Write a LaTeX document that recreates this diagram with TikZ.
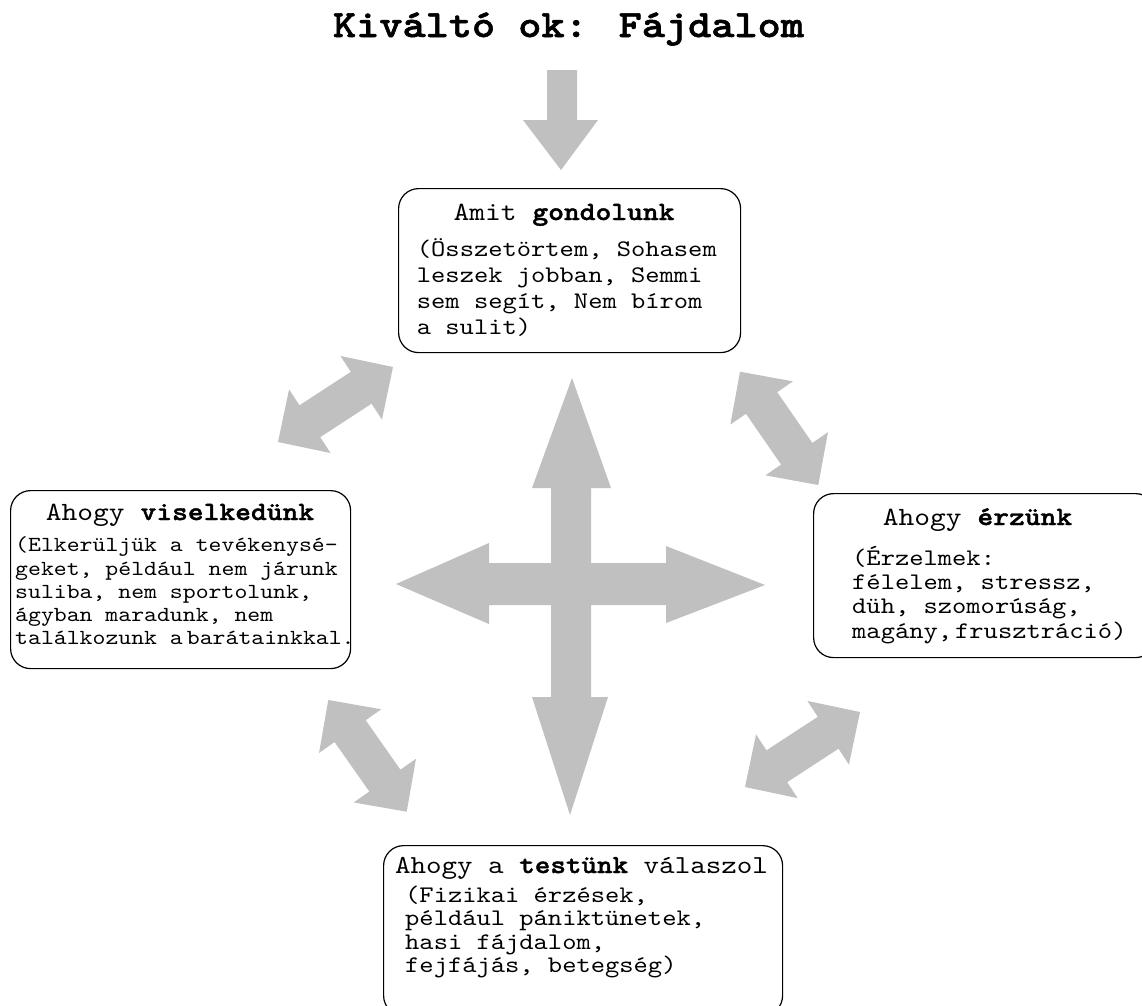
\documentclass[tikz,border=0pt]{standalone}
\usepackage{fontspec}
\newfontfamily\cour{lmmono10-regular.otf}[BoldFont=lmmonolt10-bold.otf, BoldFeatures={FakeBold=1.5}, FakeStretch=1.143]
\usetikzlibrary{calc}
\definecolor{arrowgray}{RGB}{192,192,192}
\tikzset{
  box/.style={draw=black, line width=1.2pt, rounded corners=20pt, fill=white,
              anchor=north west, inner sep=0pt},
  ttl/.style={font=\cour\fontsize{26.3}{30}\selectfont, inner sep=0pt, anchor=base},
  bodytxt/.style={font=\cour\fontsize{23.8}{26}\selectfont, inner sep=0pt, anchor=base west},
  smalltxt/.style={font=\cour\fontsize{21.5}{24}\selectfont, inner sep=0pt, anchor=base west},
  blockfill/.style={fill=arrowgray, draw=none}
}
% double block arrow between two named coordinates
\newcommand\blockarrow[2]{%
  \path let \p1=($(#2)-(#1)$) in
    \pgfextra{\pgfmathsetmacro\baang{atan2(\y1,\x1)}%
              \pgfmathsetmacro\balen{veclen(\x1,\y1)}%
              \pgfmathsetmacro\baend{\balen-38}%
              \xdef\bangle{\baang}\xdef\blength{\balen}\xdef\bend{\baend}};
  \path[blockfill, shift={(#1)}, rotate=\bangle]
    (0pt,0pt) -- (38pt,38pt) -- (38pt,19pt) -- (\bend pt,19pt) -- (\bend pt,38pt)
    -- (\blength pt,0pt) -- (\bend pt,-38pt) -- (\bend pt,-19pt) -- (38pt,-19pt)
    -- (38pt,-38pt) -- cycle;
}
\begin{document}
\begin{tikzpicture}[x=1pt,y=-1pt]
\path[use as bounding box] (0,0) rectangle (1142,1005);
\clip (0,0) rectangle (1142,1005);
\fill[white] (0,0) rectangle (1142,1005);

% title
\node[font=\cour\bfseries\fontsize{38.6}{42}\selectfont, inner sep=0pt, anchor=base]
  (title) at (568.5,37) {Kiváltó ok: Fájdalom};

% top down arrow
\path[blockfill] (547,70) -- (577,70) -- (577,120) -- (598,120) -- (561,170)
  -- (523,120) -- (547,120) -- cycle;

% boxes
\node[box, minimum width=342pt, minimum height=164pt] (think) at (398,188) {};
\node[box, minimum width=340pt, minimum height=178pt] (behave) at (10,490) {};
\node[box, minimum width=342pt, minimum height=164pt] (feel) at (813,493) {};
\node[box, minimum width=399pt, minimum height=170pt] (body) at (383,845) {};

% think text
\node[ttl] (thinkT) at (564,220) {Amit \textbf{gondolunk}};
\foreach \t [count=\i] in {{(Összetörtem, Sohasem},{leszek jobban, Semmi},{sem segít, Nem bírom},{a sulit)}}
  \node[bodytxt] (think-\i) at (416.7,{256+26*(\i-1)}) {\t};

% behave text
\node[ttl] (behaveT) at (180,520) {Ahogy \textbf{viselkedünk}};
\foreach \t [count=\i] in {{(Elkerüljük a tevékenysé-},{geket, például nem járunk},{suliba, nem sportolunk,},{ágyban maradunk, nem},{találkozunk a\hspace{4pt}barátainkkal.}}
  \node[smalltxt] (behave-\i) at (15,{551.7+23.3*(\i-1)}) {\t};

% feel text
\node[ttl] (feelT) at (977.5,525) {Ahogy \textbf{érzünk}};
\foreach \t [count=\i] in {{(Érzelmek:},{félelem, stressz,},{düh, szomorúság,},{magány,\hspace{3pt}frusztráció)}}
  \node[bodytxt] (feel-\i) at (852,{565+24.4*(\i-1)}) {\t};

% body text
\node[ttl, font=\cour\fontsize{25.9}{30}\selectfont] (bodyT) at (581.5,873) {Ahogy a \textbf{testünk} válaszol};
\foreach \t [count=\i] in {{(Fizikai érzések,},{például pániktünetek,},{hasi fájdalom,},{fejfájás, betegség)}}
  \node[bodytxt] (body-\i) at (405,{902+23.5*(\i-1)}) {\t};

% central cross arrow
\path[blockfill] (572,378) -- (611,488) -- (591,488) -- (591,563) -- (666,563)
  -- (666,546) -- (765,585) -- (666,623) -- (666,605) -- (591,605) -- (591,697)
  -- (608,697) -- (570,815) -- (532,697) -- (551,697) -- (551,605) -- (489,605)
  -- (489,624) -- (396,584) -- (489,543) -- (489,563) -- (551,563) -- (551,488)
  -- (532,488) -- cycle;

% diagonal double arrows
\coordinate (ulA) at (278,442); \coordinate (ulB) at (393,367);
\coordinate (urA) at (740,371.7); \coordinate (urB) at (818.3,485);
\coordinate (llA) at (328.3,700); \coordinate (llB) at (406.7,811.7);
\coordinate (lrA) at (745,787); \coordinate (lrB) at (860,712);
\blockarrow{ulA}{ulB}
\blockarrow{urA}{urB}
\blockarrow{llA}{llB}
\blockarrow{lrA}{lrB}
\end{tikzpicture}
\end{document}
